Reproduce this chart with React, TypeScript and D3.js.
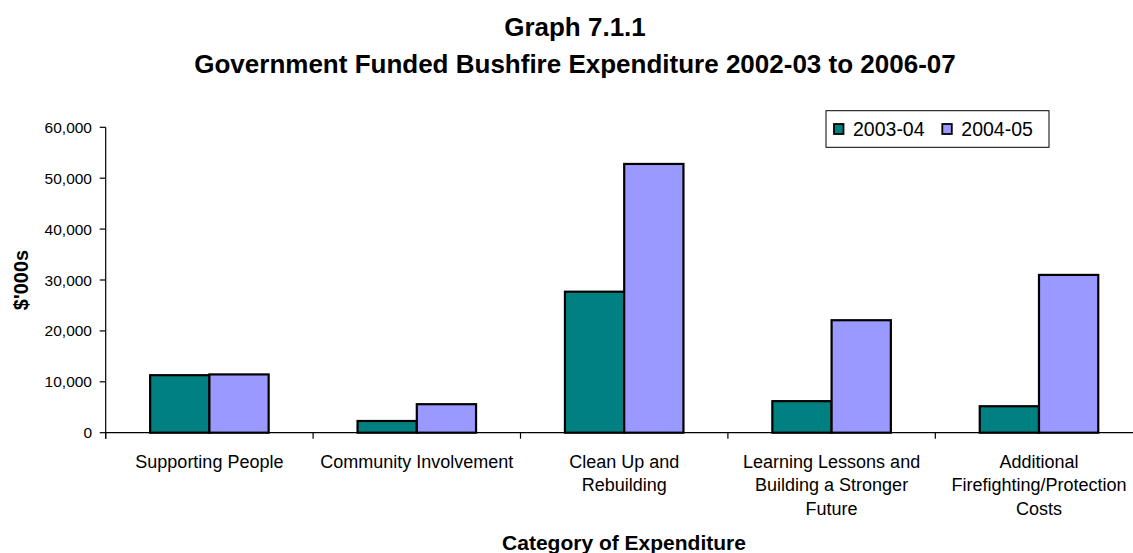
import React from "react";
import * as d3 from "d3";

const categories: string[][] = [
  ["Supporting People"],
  ["Community Involvement"],
  ["Clean Up and", "Rebuilding"],
  ["Learning Lessons and", "Building a Stronger", "Future"],
  ["Additional", "Firefighting/Protection", "Costs"],
];
const seriesNames = ["2003-04", "2004-05"];
const values2003_04 = [11300, 2300, 27700, 6200, 5200];
const values2004_05 = [11450, 5600, 52800, 22100, 31000];
const yTicks = [0, 10000, 20000, 30000, 40000, 50000, 60000];
const colors = ["#008080", "#9999FF"];

const W = 1133;
const H = 553;
const FONT = "'Liberation Sans', Arial, Helvetica, sans-serif";

export default function App() {
  const left = 105.7;
  const right = 1142.7;
  const top = 127.3;
  const bottom = 432.7;
  const catKeys = categories.map((_, i) => String(i));
  const x0 = d3.scaleBand<string>().domain(catKeys).range([left, right]).padding(0);
  const x1 = d3
    .scaleBand<string>()
    .domain(seriesNames)
    .range([0, x0.bandwidth()])
    .paddingInner(0)
    .paddingOuter(0.75);
  const y = d3.scaleLinear().domain([0, 60000]).range([bottom, top]);
  const fmt = d3.format(",");
  const series = [values2003_04, values2004_05];
  const boundaries = d3.range(categories.length + 1).map((i) => left + i * x0.step());

  return (
    <svg
      width={W}
      height={H}
      style={{ position: "absolute", left: 0, top: 0, background: "#fff" }}
      fontFamily={FONT}
    >
      <rect x={0} y={0} width={W} height={H} fill="#fff" />
      {/* Title */}
      <text x={575} y={36} textAnchor="middle" fontSize={26} fontWeight="bold">
        Graph 7.1.1
      </text>
      <text x={575} y={73} textAnchor="middle" fontSize={26} fontWeight="bold">
        Government Funded Bushfire Expenditure 2002-03 to 2006-07
      </text>

      {/* Bars */}
      {series.map((vals, si) =>
        vals.map((v, ci) => (
          <rect
            key={`${si}-${ci}`}
            x={(x0(String(ci)) as number) + (x1(seriesNames[si]) as number)}
            y={y(v)}
            width={x1.bandwidth()}
            height={bottom - y(v)}
            fill={colors[si]}
            stroke="#000"
            strokeWidth={2.2}
          />
        ))
      )}

      {/* Y axis */}
      <line x1={left} x2={left} y1={top} y2={bottom + 6} stroke="#000" strokeWidth={1.2} />
      {yTicks.map((t) => (
        <g key={t}>
          <line x1={left - 6} x2={left} y1={y(t)} y2={y(t)} stroke="#000" strokeWidth={1.2} />
          <text x={92} y={y(t) + 5.5} textAnchor="end" fontSize={15.5} fill="#000">
            {fmt(t)}
          </text>
        </g>
      ))}

      {/* X axis */}
      <line x1={left} x2={right} y1={bottom} y2={bottom} stroke="#000" strokeWidth={1.2} />
      {boundaries.map((b, i) => (
        <line key={i} x1={b} x2={b} y1={bottom} y2={bottom + 6} stroke="#000" strokeWidth={1.2} />
      ))}
      {categories.map((lines, ci) => (
        <text
          key={ci}
          x={(x0(String(ci)) as number) + x0.bandwidth() / 2}
          y={467.5}
          textAnchor="middle"
          fontSize={18}
          fill="#000"
        >
          {lines.map((l, li) => (
            <tspan key={li} x={(x0(String(ci)) as number) + x0.bandwidth() / 2} dy={li === 0 ? 0 : 23.6}>
              {l}
            </tspan>
          ))}
        </text>
      ))}

      {/* Axis titles */}
      <text
        transform={`translate(28,280) rotate(-90)`}
        textAnchor="middle"
        fontSize={20}
        fontWeight="bold"
      >
        $'000s
      </text>
      <text x={624} y={550} textAnchor="middle" fontSize={21} fontWeight="bold">
        Category of Expenditure
      </text>

      {/* Legend */}
      <rect x={826} y={110.7} width={223} height={36.6} fill="#fff" stroke="#000" strokeWidth={1} />
      {seriesNames.map((s, i) => {
        const sx = i === 0 ? 834 : 942.3;
        return (
          <g key={s}>
            <rect x={sx} y={124} width={9.5} height={10} fill={colors[i]} stroke="#000" strokeWidth={1.8} />
            <text x={sx + 19} y={135.7} fontSize={19.5} fill="#000">
              {s}
            </text>
          </g>
        );
      })}
    </svg>
  );
}
